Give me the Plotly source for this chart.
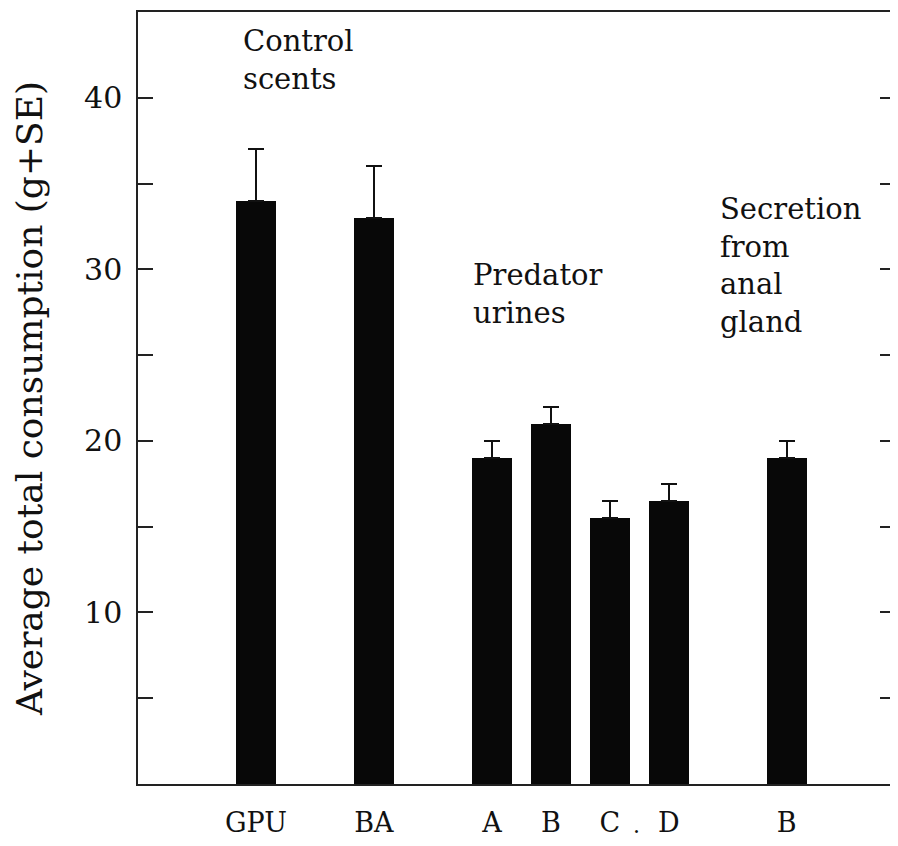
import plotly.graph_objects as go

# data
categories = ["GPU", "BA", "A", "B", "C", "D", "B"]
means = [34, 33, 19, 21, 15.5, 16.5, 19]
se = [3, 3, 1, 1, 1, 1, 1]
y_ticks = [10, 20, 30, 40]
minor_ticks = [5, 10, 15, 20, 25, 30, 35, 40]

# layout (bar slots along the axis)
slots = [2, 4, 6, 7, 8, 9, 11]

FONT = "DejaVu Serif, Liberation Serif, serif"
INK = "#111"

fig = go.Figure()
fig.add_trace(go.Bar(
    x=slots, y=means, width=0.68,
    marker=dict(color="#080808", line=dict(width=0)),
    error_y=dict(type="data", array=se, arrayminus=[0] * len(se), symmetric=False,
                 color=INK, thickness=2, width=8),
    showlegend=False,
))
# invisible traces carrying the inside tick marks on both sides
fig.add_trace(go.Scatter(x=[slots[0]], y=[0], yaxis="y2", mode="markers",
                         marker=dict(opacity=0), showlegend=False, hoverinfo="skip"))
fig.add_trace(go.Scatter(x=[slots[0]], y=[0], yaxis="y3", mode="markers",
                         marker=dict(opacity=0), showlegend=False, hoverinfo="skip"))

fig.update_layout(
    width=882, height=830,
    margin=dict(l=130, r=0, t=4, b=54),
    paper_bgcolor="white", plot_bgcolor="white",
    font=dict(family=FONT, color=INK),
    bargap=0,
    xaxis=dict(range=[0, 12.75], tickvals=slots, ticktext=categories,
               showline=True, linecolor="#222", linewidth=1.5, mirror=True,
               ticks="", showgrid=False, zeroline=False,
               tickfont=dict(size=27, family=FONT), ticklabelstandoff=14),
    yaxis=dict(range=[0, 45], tickvals=y_ticks, ticks="", showgrid=False,
               zeroline=False, showline=True, linecolor="#222", linewidth=1.5,
               tickfont=dict(size=30, family=FONT), ticklabelstandoff=8,
               title=dict(text="Average total consumption (g+SE)",
                          font=dict(size=36, family=FONT), standoff=30)),
    yaxis2=dict(range=[0, 45], overlaying="y", side="right", tickvals=minor_ticks,
                ticks="inside", ticklen=10, tickwidth=1.5, tickcolor="#222",
                showticklabels=False, showline=False, showgrid=False, zeroline=False),
    yaxis3=dict(range=[0, 45], overlaying="y", side="left", tickvals=minor_ticks,
                ticks="inside", ticklen=15, tickwidth=1.5, tickcolor="#222",
                showticklabels=False, showline=False, showgrid=False, zeroline=False),
)

ann_font = dict(size=29, family=FONT, color=INK)
fig.add_annotation(x=1.74, y=44.4, xref="x", yref="y", text="Control<br>scents",
                   showarrow=False, xanchor="left", yanchor="top", align="left", font=ann_font)
fig.add_annotation(x=5.64, y=30.8, xref="x", yref="y", text="Predator<br>urines",
                   showarrow=False, xanchor="left", yanchor="top", align="left", font=ann_font)
fig.add_annotation(x=9.84, y=34.6, xref="x", yref="y", text="Secretion<br>from<br>anal<br>gland",
                   showarrow=False, xanchor="left", yanchor="top", align="left", font=ann_font)
fig.add_annotation(x=8.46, y=-0.054, xref="x", yref="paper", text=".",
                   showarrow=False, xanchor="center", yanchor="middle",
                   font=dict(size=22, family=FONT, color=INK))

fig.write_html("out.html")
